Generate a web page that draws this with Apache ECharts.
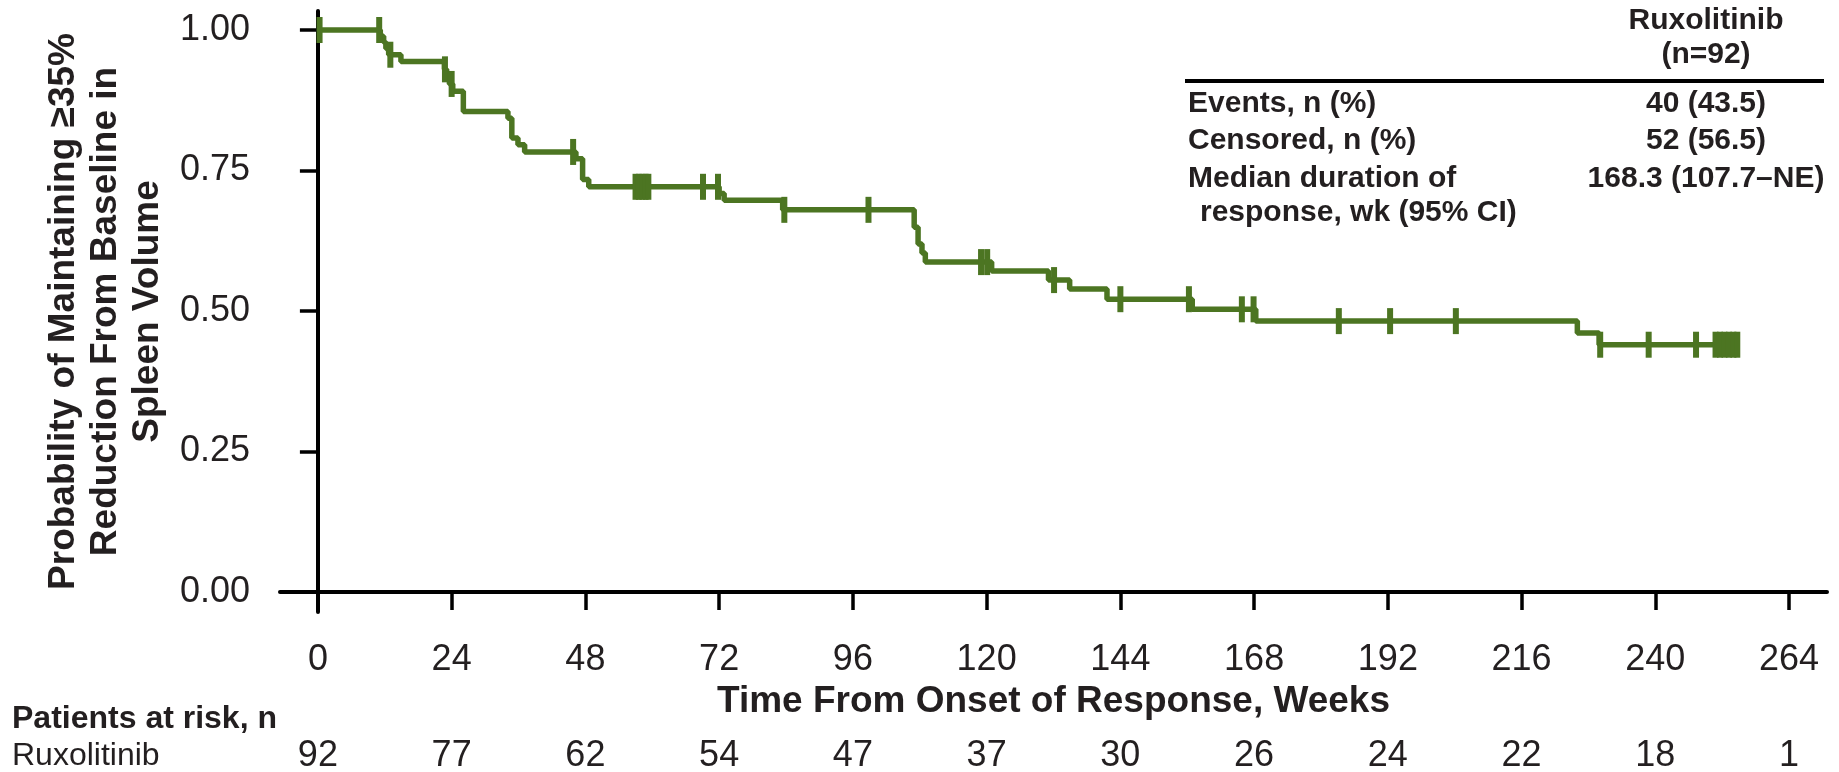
<!DOCTYPE html>
<html><head><meta charset="utf-8">
<script src="https://cdn.jsdelivr.net/npm/echarts@6/dist/echarts.min.js"></script>
<style>html,body{margin:0;padding:0;background:#fff}#c{width:1839px;height:772px}</style>
</head><body><div id="c"></div>
<script>
// ---- data ----
const xTicks = [0, 24, 48, 72, 96, 120, 144, 168, 192, 216, 240, 264];
const yTicks = [0, 0.25, 0.5, 0.75, 1];
const atRisk = [92, 77, 62, 54, 47, 37, 30, 26, 24, 22, 18, 1];
// Kaplan-Meier step points (time in weeks, survival probability)
const kmTimes = [0, 11.2, 11.8, 12.2, 12.7, 14.9, 22.7, 23.1, 23.6, 24.2, 26.1, 34.1, 34.8, 35.9, 37.1,
  46.3, 47.5, 48.6, 72.0, 72.9, 83.4, 107.0, 107.7, 108.4, 109.0, 120.9, 131.1, 134.9, 141.6,
  156.9, 168.3, 226.0, 229.9, 254.7];
const kmSurv = [1.000, 0.989, 0.978, 0.967, 0.956, 0.944, 0.930, 0.917, 0.904, 0.891, 0.855, 0.843, 0.808, 0.796, 0.783,
  0.771, 0.734, 0.721, 0.709, 0.697, 0.680, 0.649, 0.619, 0.603, 0.587, 0.571, 0.555, 0.539, 0.521,
  0.503, 0.482, 0.461, 0.440, 0.440];
// censored observation times
const censorTimes = [0.3, 11.0, 13.0, 22.8, 24.0, 45.8, 57.0, 57.6, 58.2, 58.8, 59.3, 69.1, 71.8, 83.7, 98.8,
  119.0, 120.1, 132.1, 144.0, 156.3, 165.8, 167.9, 183.2, 192.4, 204.2, 230.1, 238.8, 247.3,
  250.8, 251.6, 252.4, 253.2, 254.0, 254.7];
const tableHeader = ['Ruxolitinib', '(n=92)'];
const tableRows = ['Events, n (%)', 'Censored, n (%)', 'Median duration of', 'response, wk (95% CI)'];
const tableValues = ['40 (43.5)', '52 (56.5)', '168.3 (107.7–NE)', ''];
const seriesName = 'Ruxolitinib';

// ---- build ----
const GREEN = '#4c7522';
const TXT = '#231f20';
const FONT = '"Liberation Sans", Arial, Helvetica, sans-serif';

function survAt(t) {
  let s = 1;
  for (let i = 0; i < kmTimes.length; i++) { if (kmTimes[i] <= t) s = kmSurv[i]; }
  return s;
}
const stepData = kmTimes.map((t, i) => [t, kmSurv[i]]);
const censorData = censorTimes.map(t => [t, survAt(t)]);

const rowY = [104, 141, 179, 213];
const g = [];
g.push({ type: 'text', x: 1706, y: 21, style: { text: tableHeader[0], font: 'bold 30px ' + FONT, fill: TXT, align: 'center', verticalAlign: 'middle' } });
g.push({ type: 'text', x: 1706, y: 55, style: { text: tableHeader[1], font: 'bold 30px ' + FONT, fill: TXT, align: 'center', verticalAlign: 'middle' } });
g.push({ type: 'line', shape: { x1: 1185, y1: 81, x2: 1824, y2: 81 }, style: { stroke: '#000', lineWidth: 4 } });
tableRows.forEach((r, i) => {
  g.push({ type: 'text', x: i === 3 ? 1200 : 1188, y: rowY[i], style: { text: r, font: 'bold 30px ' + FONT, fill: TXT, align: 'left', verticalAlign: 'middle' } });
  if (tableValues[i]) g.push({ type: 'text', x: 1706, y: rowY[i], style: { text: tableValues[i], font: 'bold 30px ' + FONT, fill: TXT, align: 'center', verticalAlign: 'middle' } });
});
g.push({ type: 'text', x: 12, y: 719, style: { text: 'Patients at risk, n', font: 'bold 32px ' + FONT, fill: TXT, align: 'left', verticalAlign: 'middle' } });
g.push({ type: 'text', x: 12, y: 756, style: { text: seriesName, font: '32px ' + FONT, fill: TXT, align: 'left', verticalAlign: 'middle' } });

const chart = echarts.init(document.getElementById('c'), null, { renderer: 'canvas' });
chart.setOption({
  animation: false,
  backgroundColor: '#fff',
  textStyle: { fontFamily: FONT },
  grid: { left: 280, right: 12, top: 11, bottom: 160, containLabel: false, outerBoundsMode: 'none' },
  xAxis: [{
    type: 'value', min: -6.8, max: 270.8, position: 'bottom',
    axisLine: { show: true, lineStyle: { color: '#000', width: 4 } },
    axisTick: { show: true, customValues: xTicks, length: 18, lineStyle: { color: '#000', width: 3.5 } },
    axisLabel: { show: true, customValues: xTicks, margin: 30, fontSize: 36, color: TXT, fontFamily: FONT },
    splitLine: { show: false },
    name: 'Time From Onset of Response, Weeks', nameLocation: 'middle', nameGap: 68,
    nameTextStyle: { fontSize: 37, fontWeight: 'bold', color: TXT, fontFamily: FONT }
  }, {
    type: 'value', min: -6.8, max: 270.8, position: 'bottom', offset: 126,
    axisLine: { show: false }, axisTick: { show: false }, splitLine: { show: false },
    axisLabel: { show: true, customValues: xTicks, margin: 0, fontSize: 36, color: TXT, fontFamily: FONT,
      formatter: v => String(atRisk[Math.round(v / 24)]) }
  }],
  yAxis: {
    type: 'value', min: -0.0356, max: 1.0338,
    axisLine: { show: true, lineStyle: { color: '#000', width: 4 } },
    axisTick: { show: true, customValues: yTicks, length: 18, lineStyle: { color: '#000', width: 3.5 } },
    axisLabel: { show: true, customValues: yTicks, margin: 30, fontSize: 36, color: TXT, fontFamily: FONT,
      formatter: v => v.toFixed(2) },
    splitLine: { show: false },
    name: 'Probability of Maintaining ≥35%\nReduction From Baseline in\nSpleen Volume',
    nameLocation: 'middle', nameRotate: 90, nameGap: 109,
    nameTextStyle: { fontSize: 37, fontWeight: 'bold', color: TXT, lineHeight: 42, fontFamily: FONT, align: 'center' }
  },
  series: [{
    name: seriesName, type: 'line', step: 'end', data: stepData, symbol: 'none',
    lineStyle: { color: GREEN, width: 5.5 }, itemStyle: { color: GREEN }, silent: true, z: 3
  }, {
    name: seriesName + ' censored', type: 'scatter', data: censorData, symbol: 'rect', symbolSize: [6, 26],
    itemStyle: { color: GREEN, opacity: 1 }, silent: true, z: 4
  }],
  graphic: g
});
</script>
</body></html>
